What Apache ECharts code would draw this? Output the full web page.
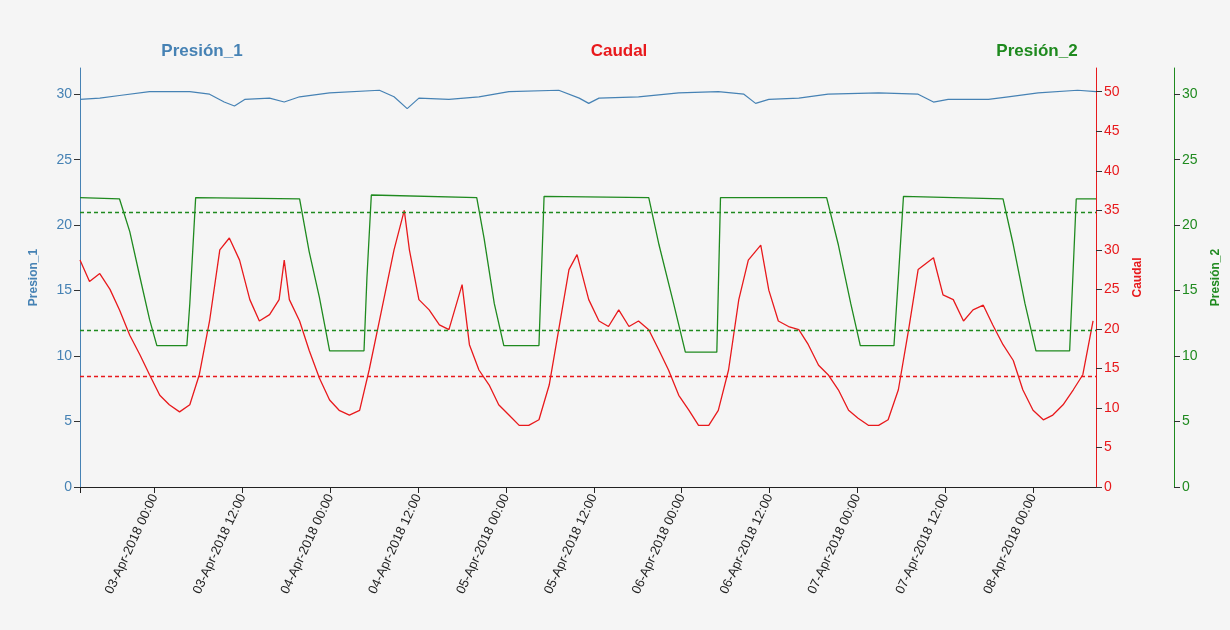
<!DOCTYPE html>
<html><head><meta charset="utf-8">
<script src="https://cdn.jsdelivr.net/npm/echarts@6/dist/echarts.min.js"></script>
<style>html,body{margin:0;padding:0;background:#f5f5f5}#c{width:1230px;height:630px}</style>
</head><body><div id="c"></div>
<script>
// hours from 03-Apr-2018 00:00
const p1Hours=[-10.2,-7.5,-4.8,-0.7,4.8,7.5,9.5,10.9,12.3,15.7,17.7,19.8,23.9,30.7,32.7,34.5,36.1,40.2,44.3,48.4,55.2,58.0,59.3,60.7,66.1,71.6,77.0,80.5,82.1,83.9,88.0,92.0,98.9,104.3,106.4,108.4,113.9,116.6,120.7,126.1,128.6];
const p1Values=[29.6,29.7,29.9,30.2,30.2,30.0,29.4,29.1,29.6,29.7,29.4,29.8,30.1,30.3,29.8,28.9,29.7,29.6,29.8,30.2,30.3,29.7,29.3,29.7,29.8,30.1,30.2,30.0,29.3,29.6,29.7,30.0,30.1,30.0,29.4,29.6,29.6,29.8,30.1,30.3,30.2];
const p2Hours=[-10.2,-4.8,-3.4,-2.0,-0.7,0.3,4.4,4.8,5.6,19.8,21.1,22.5,23.9,28.6,29.0,29.6,44.0,45.0,46.4,47.7,52.5,53.2,67.5,68.9,70.9,72.5,76.8,77.3,91.8,93.4,95.1,96.4,101.0,101.6,102.3,115.9,117.3,118.9,120.4,125.0,125.9,128.6];
const p2Values=[22.1,22.0,19.5,16.0,12.8,10.8,10.8,14.0,22.1,22.0,18.0,14.5,10.4,10.4,16.0,22.3,22.1,19.0,14.0,10.8,10.8,22.2,22.1,18.5,14.0,10.3,10.3,22.1,22.1,18.5,14.0,10.8,10.8,16.0,22.2,22.0,18.5,14.0,10.4,10.4,22.0,22.0];
const qHours=[-10.2,-8.9,-7.5,-6.1,-4.8,-3.4,-2.0,-0.7,0.7,2.0,3.4,4.8,6.1,7.5,8.9,10.2,11.6,13.0,14.3,15.7,17.0,17.7,18.4,19.8,21.1,22.5,23.9,25.2,26.6,28.0,29.3,30.7,32.7,34.1,34.8,36.1,37.5,38.9,40.2,42.0,43.0,44.3,45.7,47.0,48.4,49.8,51.1,52.5,53.9,55.2,56.6,57.7,59.3,60.7,62.0,63.4,64.8,66.1,67.5,68.9,70.2,71.6,73.0,74.3,75.7,77.0,78.4,79.8,81.1,82.8,83.9,85.2,86.6,88.0,89.3,90.7,92.0,93.4,94.8,96.1,97.5,98.9,100.2,101.6,103.0,104.3,106.4,107.7,109.1,110.5,111.8,113.2,114.5,115.9,117.3,118.6,120.0,121.4,122.7,124.1,125.5,126.8,128.2];
const qValues=[28.7,26.0,27.0,25.0,22.4,19.2,16.7,14.2,11.6,10.4,9.5,10.4,14.2,21.0,30.0,31.5,28.7,23.7,21.0,21.8,23.7,28.7,23.7,21.0,17.3,13.8,11.0,9.7,9.1,9.7,14.8,21.0,30.0,35.0,30.0,23.7,22.4,20.5,19.9,25.6,18.0,14.8,12.9,10.4,9.1,7.8,7.8,8.5,12.9,19.9,27.5,29.4,23.7,21.0,20.3,22.4,20.3,21.0,19.9,17.3,14.8,11.6,9.7,7.8,7.8,9.7,14.8,23.7,28.7,30.6,24.9,21.0,20.3,19.9,18.0,15.4,14.2,12.3,9.7,8.7,7.8,7.8,8.5,12.3,19.9,27.5,29.0,24.3,23.7,21.0,22.4,23.0,20.5,18.0,16.0,12.3,9.7,8.5,9.1,10.4,12.3,14.2,21.0];
const tickHours=[-10.2,0,12,24,36,48,60,72,84,96,108,120];
const labelHours=[0,12,24,36,48,60,72,84,96,108,120];
const months=['Jan','Feb','Mar','Apr','May','Jun','Jul','Aug','Sep','Oct','Nov','Dec'];
const base=Date.UTC(2018,3,3,0,0);
function fmt(h){const d=new Date(base+h*3600000);const p=n=>String(n).padStart(2,'0');
 return p(d.getUTCDate())+'-'+months[d.getUTCMonth()]+'-'+d.getUTCFullYear()+' '+p(d.getUTCHours())+':'+p(d.getUTCMinutes());}
const zip=(a,b)=>a.map((x,i)=>[x,b[i]]);
const BLUE='#4682b4',RED='#e8191c',GREEN='#1f8a1f';
const F='Liberation Sans';
const chart=echarts.init(document.getElementById('c'));
function yax(color,name,pos,offset,max,nameGap){return {type:'value',min:0,max:max,interval:5,position:pos,offset:offset,
 name:name,nameLocation:'middle',nameGap:nameGap,nameTextStyle:{color:color,fontWeight:'bold',fontSize:12,fontFamily:F},
 axisLine:{show:true,onZero:false,lineStyle:{color:color}},axisTick:{show:true,length:6,lineStyle:{color:'#333'}},
 axisLabel:{color:color,fontSize:14,fontFamily:F,showMaxLabel:false},splitLine:{show:false}};}
chart.setOption({
 backgroundColor:'#f5f5f5',animation:false,
 title:[
  {text:'Presión_1',left:197,top:38,textAlign:'center',textStyle:{color:BLUE,fontSize:17,fontWeight:'bold',fontFamily:F}},
  {text:'Caudal',left:614,top:38,textAlign:'center',textStyle:{color:RED,fontSize:17,fontWeight:'bold',fontFamily:F}},
  {text:'Presión_2',left:1032,top:38,textAlign:'center',textStyle:{color:GREEN,fontSize:17,fontWeight:'bold',fontFamily:F}}],
 grid:{left:80,right:132,top:68,bottom:143},
 xAxis:{type:'value',min:-10.2,max:128.6,axisLine:{onZero:false,lineStyle:{color:'#222'}},
  axisTick:{customValues:tickHours,length:6,lineStyle:{color:'#222'}},
  axisLabel:{customValues:labelHours,rotate:65,color:'#222',fontSize:13,fontFamily:F,formatter:v=>fmt(v)},
  splitLine:{show:false}},
 yAxis:[yax(BLUE,'Presion_1','left',0,32,40),yax(RED,'Caudal','right',0,53,36),yax(GREEN,'Presión_2','right',78,32,36)],
 series:[
  {type:'line',yAxisIndex:0,data:zip(p1Hours,p1Values),symbol:'none',lineStyle:{color:BLUE,width:1.2},itemStyle:{color:BLUE}},
  {type:'line',yAxisIndex:2,data:zip(p2Hours,p2Values),symbol:'none',lineStyle:{color:GREEN,width:1.3},itemStyle:{color:GREEN},
   markLine:{silent:true,symbol:'none',label:{show:false},lineStyle:{color:GREEN,type:[4,3],width:1.3},data:[{yAxis:21},{yAxis:12}]}},
  {type:'line',yAxisIndex:1,data:zip(qHours,qValues),symbol:'none',lineStyle:{color:RED,width:1.3},itemStyle:{color:RED},
   markLine:{silent:true,symbol:'none',label:{show:false},lineStyle:{color:RED,type:[4,3],width:1.3},data:[{yAxis:14}]}}
 ]
});
</script></body></html>
